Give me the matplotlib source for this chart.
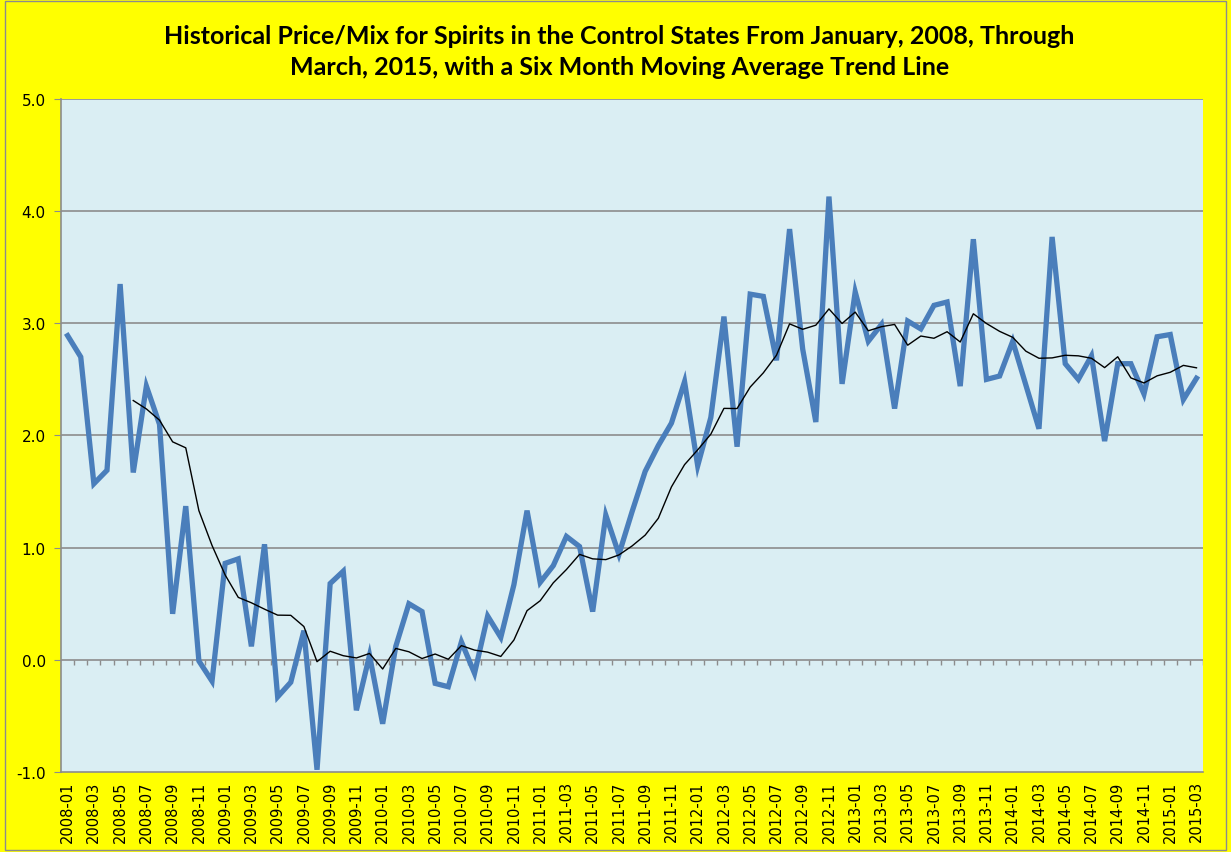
import matplotlib
matplotlib.use("Agg")
import matplotlib.pyplot as plt
import numpy as np
import pandas as pd

months = pd.period_range("2008-01", "2015-03", freq="M").strftime("%Y-%m").tolist()

price_mix = [
    2.89, 2.70, 1.57, 1.69, 3.35, 1.67, 2.44, 2.10, 0.41, 1.37,
    -0.01, -0.19, 0.86, 0.90, 0.12, 1.03, -0.33, -0.20, 0.26, -0.98,
    0.68, 0.79, -0.45, 0.04, -0.57, 0.12, 0.50, 0.43, -0.21, -0.24,
    0.16, -0.12, 0.39, 0.20, 0.67, 1.33, 0.69, 0.84, 1.10, 1.01,
    0.43, 1.29, 0.94, 1.32, 1.68, 1.91, 2.11, 2.48, 1.73, 2.16,
    3.06, 1.90, 3.26, 3.24, 2.67, 3.84, 2.77, 2.12, 4.13, 2.46,
    3.28, 2.84, 2.99, 2.24, 3.02, 2.95, 3.16, 3.19, 2.44, 3.75,
    2.50, 2.53, 2.84, 2.45, 2.06, 3.77, 2.64, 2.50, 2.71, 1.95,
    2.64, 2.64, 2.37, 2.88, 2.90, 2.32, 2.51,
]

title = ("Historical Price/Mix for Spirits in the Control States From January, 2008, Through\n"
         "March, 2015, with a Six Month Moving Average Trend Line")

y_ticks = [-1.0, 0.0, 1.0, 2.0, 3.0, 4.0, 5.0]

moving_avg = pd.Series(price_mix).rolling(6).mean().to_numpy()

fig = plt.figure(figsize=(12.31, 8.53), dpi=100)
fig.patch.set_facecolor("#FFFF00")
# outer grey border
fig.add_artist(plt.Rectangle((0.004, 0.002), 0.992, 0.996, transform=fig.transFigure,
                             fill=False, edgecolor="#8C8C8C", linewidth=1.0))

ax = fig.add_axes([0.0496, 0.0938, 0.9277, 0.789])
ax.set_facecolor("#DAEEF3")

x = np.arange(len(months))
ax.plot(x, price_mix, color="#4A7EBB", linewidth=3.8, solid_joinstyle="miter", zorder=3)
ax.plot(x, moving_avg, color="black", linewidth=1.0, zorder=4)

ax.set_xlim(-0.5, len(months) - 0.5)
ax.set_ylim(-1.0, 5.0)
ax.set_yticks(y_ticks)
ax.set_yticklabels([f"{v:.1f}" for v in y_ticks])

for v in y_ticks[2:]:
    ax.axhline(v, color="#8C8C8C", linewidth=1.2, zorder=1)
# zero axis line with category tick marks
ax.axhline(0, color="#8C8C8C", linewidth=1.2, zorder=2)
bounds = np.arange(len(months)) + 0.5
ax.vlines(bounds, -0.045, 0, color="#8C8C8C", linewidth=1.0, zorder=2)

ax.set_xticks(x[::2])
ax.set_xticklabels(months[::2], rotation=90, fontsize=10.5, family="DejaVu Sans")
ax.tick_params(axis="x", length=0, pad=6)
ax.tick_params(axis="y", length=5, color="#8C8C8C", labelsize=11, pad=6)

for s in ["top", "right"]:
    ax.spines[s].set_visible(False)
for s in ["left", "bottom"]:
    ax.spines[s].set_color("#8C8C8C")
    ax.spines[s].set_linewidth(1.2)

fig.text(0.503, 0.939, title, ha="center", va="center", fontsize=18,
         fontweight="bold", family="Lato", linespacing=1.45)

fig.savefig("out.png", dpi=100, facecolor=fig.get_facecolor())
